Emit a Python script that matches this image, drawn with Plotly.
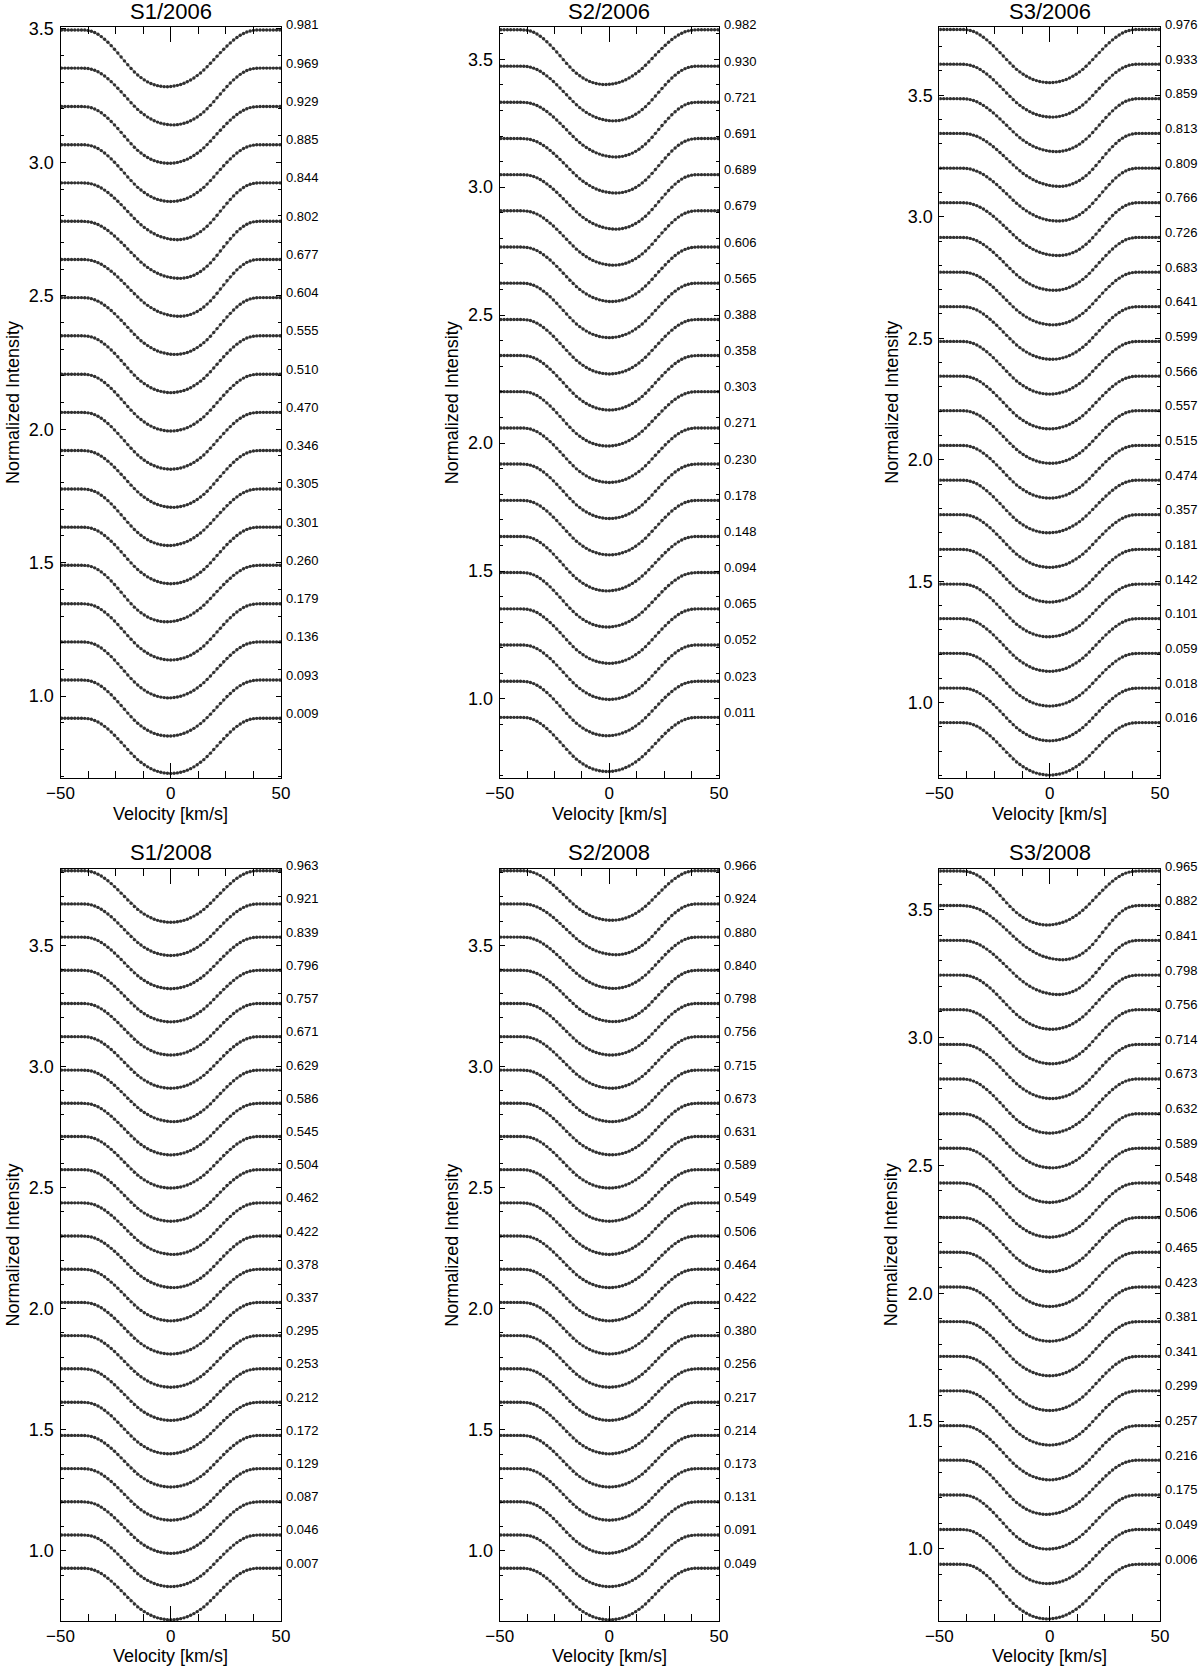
import numpy as np
import plotly.graph_objects as go

# ---------------- data ----------------
VELOCITY = [-49.5, -48.0, -46.5, -45.0, -43.5, -42.0, -40.5, -39.0, -37.5, -36.0,
            -34.5, -33.0, -31.5, -30.0, -28.5, -27.0, -25.5, -24.0, -22.5, -21.0,
            -19.5, -18.0, -16.5, -15.0, -13.5, -12.0, -10.5, -9.0, -7.5, -6.0,
            -4.5, -3.0, -1.5, 0.0, 1.5, 3.0, 4.5, 6.0, 7.5, 9.0,
            10.5, 12.0, 13.5, 15.0, 16.5, 18.0, 19.5, 21.0, 22.5, 24.0,
            25.5, 27.0, 28.5, 30.0, 31.5, 33.0, 34.5, 36.0, 37.5, 39.0,
            40.5, 42.0, 43.5, 45.0, 46.5, 48.0, 49.5]

# relative line depth (1 = line core) versus |v| measured from the line core
ABS_V = [0.0, 1.5, 3.0, 4.5, 6.0, 7.5, 9.0, 10.5, 12.0, 13.5, 15.0, 16.5, 18.0,
         19.5, 21.0, 22.5, 24.0, 25.5, 27.0, 28.5, 30.0, 31.5, 33.0, 34.5, 36.0,
         37.5, 39.0, 40.5, 42.0, 43.5, 45.0, 46.5, 48.0, 49.5]
LINE_SHAPE = [1.000, 0.997, 0.990, 0.978, 0.962, 0.940, 0.913, 0.880, 0.842,
              0.798, 0.750, 0.693, 0.632, 0.567, 0.500, 0.435, 0.370, 0.308,
              0.250, 0.196, 0.147, 0.104, 0.068, 0.040, 0.020, 0.008, 0.002,
              0.0, 0.0, 0.0, 0.0, 0.0, 0.0, 0.0]

TITLES = ["S1/2006", "S2/2006", "S3/2006", "S1/2008", "S2/2008", "S3/2008"]

# phases listed bottom -> top
S1_2006_PHASE = ["0.009", "0.093", "0.136", "0.179", "0.260", "0.301", "0.305", "0.346",
                 "0.470", "0.510", "0.555", "0.604", "0.677", "0.802", "0.844", "0.885",
                 "0.929", "0.969", "0.981"]
S1_2006_CONT = [0.917, 1.060, 1.203, 1.346, 1.490, 1.633, 1.776, 1.920, 2.063, 2.206,
                2.350, 2.493, 2.636, 2.779, 2.923, 3.066, 3.209, 3.353, 3.496]
S1_2006_VMIN = [0, -1, -1, 0, -2, 0, -1, 1, 0, 0, 0, 2, 4, 4, 3, 0, -1, 1, -2]
S1_2006_DEPTH = [0.207, 0.210, 0.210, 0.211, 0.212, 0.212, 0.212, 0.213, 0.213, 0.213,
                 0.213, 0.213, 0.213, 0.214, 0.213, 0.213, 0.213, 0.213, 0.213]

S2_2006_PHASE = ["0.011", "0.023", "0.052", "0.065", "0.094", "0.148", "0.178", "0.230",
                 "0.271", "0.303", "0.358", "0.388", "0.565", "0.606", "0.679", "0.689",
                 "0.691", "0.721", "0.930", "0.982"]
S2_2006_CONT = [0.928, 1.069, 1.211, 1.352, 1.494, 1.635, 1.776, 1.918, 2.059, 2.201,
                2.342, 2.483, 2.625, 2.766, 2.908, 3.049, 3.190, 3.332, 3.473, 3.615]
S2_2006_VMIN = [-1, -1, 0, 0, -1, -1, 0, 0, 0, -1, 0, 0, 0, 1, 2, 3, 3, 3, 2, -2]
S2_2006_DEPTH = [0.212, 0.213, 0.213, 0.213, 0.213, 0.213, 0.213, 0.213, 0.213, 0.213,
                 0.213, 0.213, 0.213, 0.213, 0.213, 0.213, 0.213, 0.214, 0.214, 0.214]

S3_2006_PHASE = ["0.016", "0.018", "0.059", "0.101", "0.142", "0.181", "0.357", "0.474",
                 "0.515", "0.557", "0.566", "0.599", "0.641", "0.683", "0.726", "0.766",
                 "0.809", "0.813", "0.859", "0.933", "0.976"]
S3_2006_CONT = [0.918, 1.060, 1.203, 1.346, 1.488, 1.631, 1.774, 1.916, 2.059, 2.202,
                2.344, 2.487, 2.630, 2.772, 2.915, 3.058, 3.200, 3.343, 3.486, 3.628, 3.771]
S3_2006_VMIN = [0, 0, 0, 0, -0.5, 0, 0, -0.5, 0, 0.5, 0, 0, 1, 1.5, 2, 4, 4, 4.5, 3, 1, 0]
S3_2006_DEPTH = [0.216, 0.217, 0.217, 0.217, 0.217, 0.217, 0.217, 0.217, 0.217, 0.217,
                 0.217, 0.217, 0.217, 0.217, 0.218, 0.218, 0.218, 0.218, 0.218, 0.218, 0.219]

S1_2008_PHASE = ["0.007", "0.046", "0.087", "0.129", "0.172", "0.212", "0.253", "0.295",
                 "0.337", "0.378", "0.422", "0.462", "0.504", "0.545", "0.586", "0.629",
                 "0.671", "0.757", "0.796", "0.839", "0.921", "0.963"]
S1_2008_CONT = [0.929, 1.066, 1.203, 1.340, 1.477, 1.614, 1.752, 1.889, 2.026, 2.163,
                2.300, 2.437, 2.574, 2.711, 2.848, 2.985, 3.123, 3.260, 3.397, 3.534,
                3.671, 3.808]
S1_2008_VMIN = [0, 0, 0, 0, 0, -1, 0, 0, 0, 0, 1, 1, 0, 0, 0, 1, 0, 0, 0, 0, 0, 0]
S1_2008_DEPTH = [0.213] * 22

S2_2008_PHASE = ["0.049", "0.091", "0.131", "0.173", "0.214", "0.217", "0.256", "0.380",
                 "0.422", "0.464", "0.506", "0.549", "0.589", "0.631", "0.673", "0.715",
                 "0.756", "0.798", "0.840", "0.880", "0.924", "0.966"]
S2_2008_CONT = S1_2008_CONT
S2_2008_VMIN = [0, 0, -1, 0, 0, 0, 0, 0, 0, 0, 0, 0, 0, 0, 1, 1, 1, 1, 2, 2, 3, 1]
S2_2008_DEPTH = [0.213, 0.213, 0.213, 0.213, 0.213, 0.213, 0.213, 0.213, 0.213, 0.213,
                 0.213, 0.213, 0.213, 0.213, 0.213, 0.213, 0.213, 0.213, 0.212, 0.212,
                 0.210, 0.205]

S3_2008_PHASE = ["0.006", "0.049", "0.175", "0.216", "0.257", "0.299", "0.341", "0.381",
                 "0.423", "0.465", "0.506", "0.548", "0.589", "0.632", "0.673", "0.714",
                 "0.756", "0.798", "0.841", "0.882", "0.965"]
S3_2008_CONT = [0.940, 1.076, 1.211, 1.347, 1.482, 1.618, 1.753, 1.889, 2.024, 2.160,
                2.296, 2.431, 2.567, 2.702, 2.838, 2.973, 3.109, 3.244, 3.380, 3.516, 3.651]
S3_2008_VMIN = [-1, -1, -1, -1.5, 0, 0, 0, 0, 0, 0, 0, 0, 0, 1, 0, 1, 1, 1, 4, 6, -1]
S3_2008_DEPTH = [0.214, 0.212, 0.212, 0.212, 0.212, 0.212, 0.212, 0.212, 0.212, 0.212,
                 0.212, 0.212, 0.212, 0.212, 0.212, 0.212, 0.212, 0.212, 0.212, 0.212, 0.211]

PANELS = [
    (S1_2006_PHASE, S1_2006_CONT, S1_2006_VMIN, S1_2006_DEPTH),
    (S2_2006_PHASE, S2_2006_CONT, S2_2006_VMIN, S2_2006_DEPTH),
    (S3_2006_PHASE, S3_2006_CONT, S3_2006_VMIN, S3_2006_DEPTH),
    (S1_2008_PHASE, S1_2008_CONT, S1_2008_VMIN, S1_2008_DEPTH),
    (S2_2008_PHASE, S2_2008_CONT, S2_2008_VMIN, S2_2008_DEPTH),
    (S3_2008_PHASE, S3_2008_CONT, S3_2008_VMIN, S3_2008_DEPTH),
]

Y_RANGES = [(0.693, 3.507), (0.691, 3.626), (0.690, 3.781),
            (0.711, 3.815), (0.711, 3.815), (0.718, 3.659)]

# ---------------- layout geometry ----------------
W, H = 1200, 1666
X_PX = [(60.5, 281.0), (499.7, 719.0), (939.3, 1160.0)]
Y_PX = [(27.0, 778.0), (869.0, 1621.0)]
TITLE_Y = [11.7, 852.3]
XTITLE_Y = [814.0, 1656.0]

V = np.array(VELOCITY)


def profile(cont, vmin, depth):
    wing = 40.0
    u = np.where(V < vmin, (V - vmin) * wing / (wing + vmin),
                 (V - vmin) * wing / (wing - vmin))
    frac = np.interp(np.abs(u), ABS_V, LINE_SHAPE)
    return cont - depth * frac


fig = go.Figure()
annotations = []
layout = {}
FONT = "Liberation Sans, Arial, Helvetica, sans-serif"

for k, (phases, conts, vmins, depths) in enumerate(PANELS):
    row, col = divmod(k, 3)
    idx = "" if k == 0 else str(k + 1)
    xa, ya = "x" + idx, "y" + idx
    x0, x1 = X_PX[col]
    ytop, ybot = Y_PX[row]

    lx, ly, px, py = [], [], [], []
    for c, vm, d in zip(conts, vmins, depths):
        prof = profile(c, vm, d)
        lx += list(V) + [None]
        ly += list(prof) + [None]
        px += list(V)
        py += list(prof)

    fig.add_trace(go.Scatter(x=lx, y=ly, mode="lines", xaxis=xa, yaxis=ya,
                             line=dict(color="#a0a0a0", width=1.6),
                             hoverinfo="skip", showlegend=False))
    fig.add_trace(go.Scatter(x=px, y=py, mode="markers", xaxis=xa, yaxis=ya,
                             marker=dict(color="#303030", size=3.4, line=dict(width=0)),
                             showlegend=False))

    layout["xaxis" + idx] = dict(
        domain=[x0 / W, x1 / W], anchor=ya, range=[-50, 50], automargin=False,
        tickvals=[-50, 0, 50], ticks="inside", ticklen=15, tickwidth=1,
        tickcolor="black", mirror="ticks", showline=True, linecolor="black",
        linewidth=1, showgrid=False, zeroline=False,
        minor=dict(dtick=12.5, tick0=0, ticks="inside", ticklen=7,
                   tickcolor="black", tickwidth=1, showgrid=False),
        tickfont=dict(family=FONT, size=17, color="black"),
        ticklabelstandoff=0,
    )
    layout["yaxis" + idx] = dict(
        domain=[1 - ybot / H, 1 - ytop / H], anchor=xa, automargin=False,
        range=list(Y_RANGES[k]), dtick=0.5, tick0=0, tickformat=".1f",
        ticks="inside", ticklen=5, tickwidth=1, tickcolor="black",
        mirror="ticks", showline=True, linecolor="black", linewidth=1,
        showgrid=False, zeroline=False,
        minor=dict(dtick=0.1, tick0=0, ticks="inside", ticklen=3,
                   tickcolor="black", tickwidth=1, showgrid=False),
        tickfont=dict(family=FONT, size=18, color="black"),
        ticklabelstandoff=2,
    )

    # panel title
    annotations.append(dict(text=TITLES[k], xref="paper", yref="paper",
                            x=(x0 + x1) / 2 / W, y=1 - TITLE_Y[row] / H,
                            xanchor="center", yanchor="middle", showarrow=False,
                            font=dict(family=FONT, size=22, color="black")))
    # x title
    annotations.append(dict(text="Velocity [km/s]", xref="paper", yref="paper",
                            x=(x0 + x1) / 2 / W, y=1 - XTITLE_Y[row] / H,
                            xanchor="center", yanchor="middle", showarrow=False,
                            font=dict(family=FONT, size=18, color="black")))
    # y title
    annotations.append(dict(text="Normalized Intensity", xref="paper", yref="paper",
                            x=(x0 - 48) / W, y=1 - (ytop + ybot) / 2 / H,
                            xanchor="center", yanchor="middle", textangle=-90,
                            showarrow=False,
                            font=dict(family=FONT, size=18, color="black")))
    # phase labels
    for ph, c in zip(phases, conts):
        annotations.append(dict(text=ph, xref=xa + " domain", yref=ya,
                                x=1, y=c, xanchor="left", yanchor="middle",
                                xshift=3, yshift=5, showarrow=False,
                                font=dict(family=FONT, size=13, color="black")))

fig.update_layout(
    width=W, height=H, autosize=False,
    margin=dict(l=0, r=0, t=0, b=0, autoexpand=False),
    paper_bgcolor="white", plot_bgcolor="white",
    annotations=annotations,
    **layout,
)

fig.write_html("out.html",
               config={"displayModeBar": False},
               post_script="document.body.style.margin='0';"
                           "document.body.style.overflow='hidden';")
